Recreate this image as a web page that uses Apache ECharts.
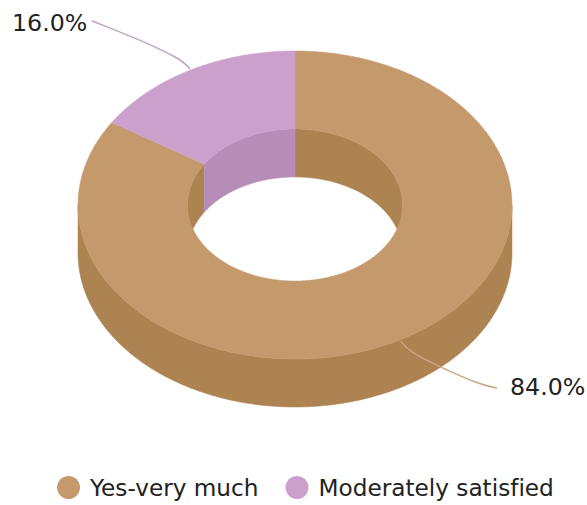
<!DOCTYPE html>
<html>
<head>
<meta charset="utf-8">
<style>html,body{margin:0;padding:0;background:#fff}#c{width:587px;height:505px}
svg text{font-variant-ligatures:none}</style>
<script src="https://cdn.jsdelivr.net/npm/echarts@6/dist/echarts.min.js"></script>
</head>
<body>
<div id="c"></div>
<script>
const categories = ['Yes-very much', 'Moderately satisfied'];
const shares = [84.0, 16.0];
const shareLabels = ['84.0%', '16.0%'];
const topColors = ['#c49a6c', '#cba0cc'];
const wallColors = ['#ad8352', '#b68db6'];
const lineColors = ['#c9a884', '#c3a0c3'];
const labelX = [510, 12];
const labelY = [387, 23];
const leaderPaths = [
  'M401 341C407 352 430 362 445 369C465 378 480 385 497 388',
  'M92 21C115 30 150 43 175 57C182 61 187 65 190 69'
];

const CX = 295, CY = 205, RX = 217, RY = 154, IRX = 107.5, IRY = 76, DEPTH = 48;
const total = shares.reduce((a, b) => a + b, 0);

function pt(rx, ry, a, dy) {
  return [CX + rx * Math.sin(a), CY - ry * Math.cos(a) + (dy || 0)];
}
function arc(rx, ry, a0, a1, dy) {
  const n = Math.max(2, Math.ceil(Math.abs(a1 - a0) / 0.01));
  const out = [];
  for (let i = 0; i <= n; i++) out.push(pt(rx, ry, a0 + (a1 - a0) * i / n, dy));
  return out;
}
function overlap(a0, a1, b0, b1) {
  const s = Math.max(a0, b0), e = Math.min(a1, b1);
  return e > s ? [s, e] : null;
}

function makeRender(idx) {
  return function () {
    let before = 0;
    for (let i = 0; i < idx; i++) before += shares[i];
    const a0 = before / total * 2 * Math.PI;
    const a1 = (before + shares[idx]) / total * 2 * Math.PI;
    const PI = Math.PI;
    const children = [];
    const wall = { fill: wallColors[idx], stroke: wallColors[idx], lineWidth: 0.5 };
    const o = overlap(a0, a1, PI / 2, 3 * PI / 2);
    if (o) children.push({
      type: 'polygon',
      shape: { points: arc(RX, RY, o[0], o[1], 0).concat(arc(RX, RY, o[1], o[0], DEPTH)) },
      style: wall
    });
    [[0, PI / 2], [3 * PI / 2, 2 * PI]].forEach(r => {
      const q = overlap(a0, a1, r[0], r[1]);
      if (q) children.push({
        type: 'polygon',
        shape: { points: arc(IRX, IRY, q[0], q[1], 0).concat(arc(IRX, IRY, q[1], q[0], DEPTH)) },
        style: wall
      });
    });
    children.push({
      type: 'polygon',
      shape: { points: arc(RX, RY, a0, a1, 0).concat(arc(IRX, IRY, a1, a0, 0)) },
      style: { fill: topColors[idx], stroke: topColors[idx], lineWidth: 0.5 }
    });
    children.push({
      type: 'path',
      shape: { pathData: leaderPaths[idx] },
      style: { fill: 'none', stroke: lineColors[idx], lineWidth: 1.5 }
    });
    children.push({
      type: 'text',
      x: labelX[idx], y: labelY[idx],
      style: {
        text: shareLabels[idx], fill: '#222222',
        font: '23.7px "DejaVu Sans"',
        textAlign: 'left', textVerticalAlign: 'middle'
      }
    });
    return { type: 'group', children: children };
  };
}

const chart = echarts.init(document.getElementById('c'), null, { renderer: 'svg' });
chart.setOption({
  animation: false,
  backgroundColor: '#ffffff',
  legend: {
    left: 52, top: 471,
    icon: 'circle',
    itemWidth: 23, itemHeight: 23, itemGap: 27,
    data: categories,
    textStyle: { fontFamily: 'DejaVu Sans', fontSize: 23.2, color: '#222222', padding: [0, 0, 0, 5] }
  },
  series: categories.map((name, i) => ({
    type: 'custom',
    name: name,
    coordinateSystem: 'none',
    z: i + 1,
    itemStyle: { color: topColors[i] },
    data: [shares[i]],
    renderItem: makeRender(i),
    silent: true
  }))
});
</script>
</body>
</html>
